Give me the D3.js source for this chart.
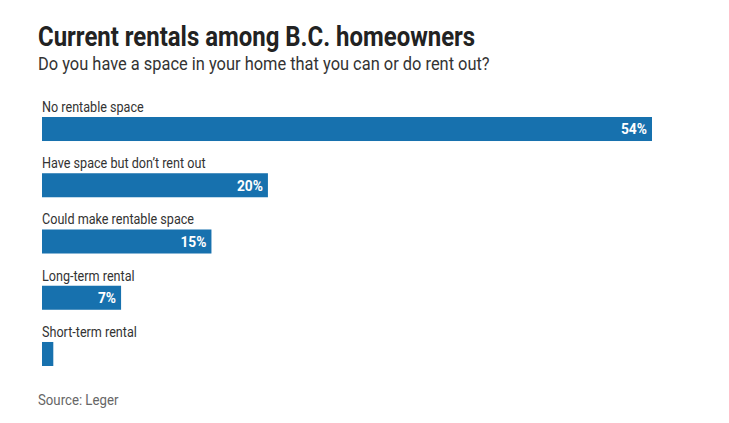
<!DOCTYPE html>
<html>
<head>
<meta charset="utf-8">
<script src="https://cdn.jsdelivr.net/npm/d3@7"></script>
<style>
  body { margin: 0; background: #fff; }
  text { font-family: Roboto, sans-serif; }
</style>
</head>
<body>
<div id="wrapper"></div>
<script>
// data
const categories = [
  "No rentable space",
  "Have space but don\u2019t rent out",
  "Could make rentable space",
  "Long-term rental",
  "Short-term rental",
]
const shares = [54, 20, 15, 7, 1]
const valueLabels = ["54%", "20%", "15%", "7%", ""]

const title = "Current rentals among B.C. homeowners"
const subtitle = "Do you have a space in your home that you can or do rent out?"
const source = "Source: Leger"

// squeeze Roboto horizontally so it reads like the condensed face
function squeeze(factor) {
  return sel => sel.each(function () {
    const w = this.getComputedTextLength()
    if (w > 0) {
      d3.select(this)
        .attr("textLength", w * factor)
        .attr("lengthAdjust", "spacingAndGlyphs")
    }
  })
}

const dimensions = {
  width: 729,
  height: 423,
  margin: { top: 117, left: 42, right: 77, bottom: 57 },
}

const svg = d3.select("#wrapper")
  .append("svg")
    .attr("width", dimensions.width)
    .attr("height", dimensions.height)

const rows = categories.map((c, i) => ({ category: c, share: shares[i], label: valueLabels[i] }))

const xScale = d3.scaleLinear()
  .domain([0, d3.max(shares)])
  .range([dimensions.margin.left, dimensions.width - dimensions.margin.right])

const yScale = d3.scaleBand()
  .domain(categories)
  .range([dimensions.margin.top, dimensions.height - dimensions.margin.bottom])
  .paddingInner(0.573)
  .paddingOuter(0)

// headings
svg.append("text")
  .attr("x", 38)
  .attr("y", 46)
  .attr("fill", "#222")
  .style("font-size", "28px")
  .style("font-weight", 700)
  .text(title)
  .call(squeeze(0.855))

svg.append("text")
  .attr("x", 38)
  .attr("y", 70)
  .attr("fill", "#333")
  .style("font-size", "18px")
  .text(subtitle)
  .call(squeeze(0.912))

// bars
const row = svg.selectAll(".row")
  .data(rows)
  .join("g")
    .attr("class", "row")

row.append("rect")
  .attr("x", xScale(0))
  .attr("y", d => yScale(d.category))
  .attr("width", d => xScale(d.share) - xScale(0))
  .attr("height", yScale.bandwidth())
  .attr("fill", "#1771ae")

row.append("text")
  .attr("x", xScale(0))
  .attr("y", d => yScale(d.category) - 5)
  .attr("fill", "#333")
  .style("font-size", "14px")
  .text(d => d.category)
  .call(squeeze(0.9))

row.append("text")
  .attr("x", d => xScale(d.share) - 5)
  .attr("y", d => yScale(d.category) + yScale.bandwidth() / 2)
  .attr("dy", "0.36em")
  .attr("text-anchor", "end")
  .attr("fill", "#fff")
  .style("font-size", "15px")
  .style("font-weight", 700)
  .text(d => d.label)
  .call(squeeze(0.92))

// source
svg.append("text")
  .attr("x", 38)
  .attr("y", 405)
  .attr("fill", "#666")
  .style("font-size", "15px")
  .text(source)
  .call(squeeze(0.88))
</script>
</body>
</html>
